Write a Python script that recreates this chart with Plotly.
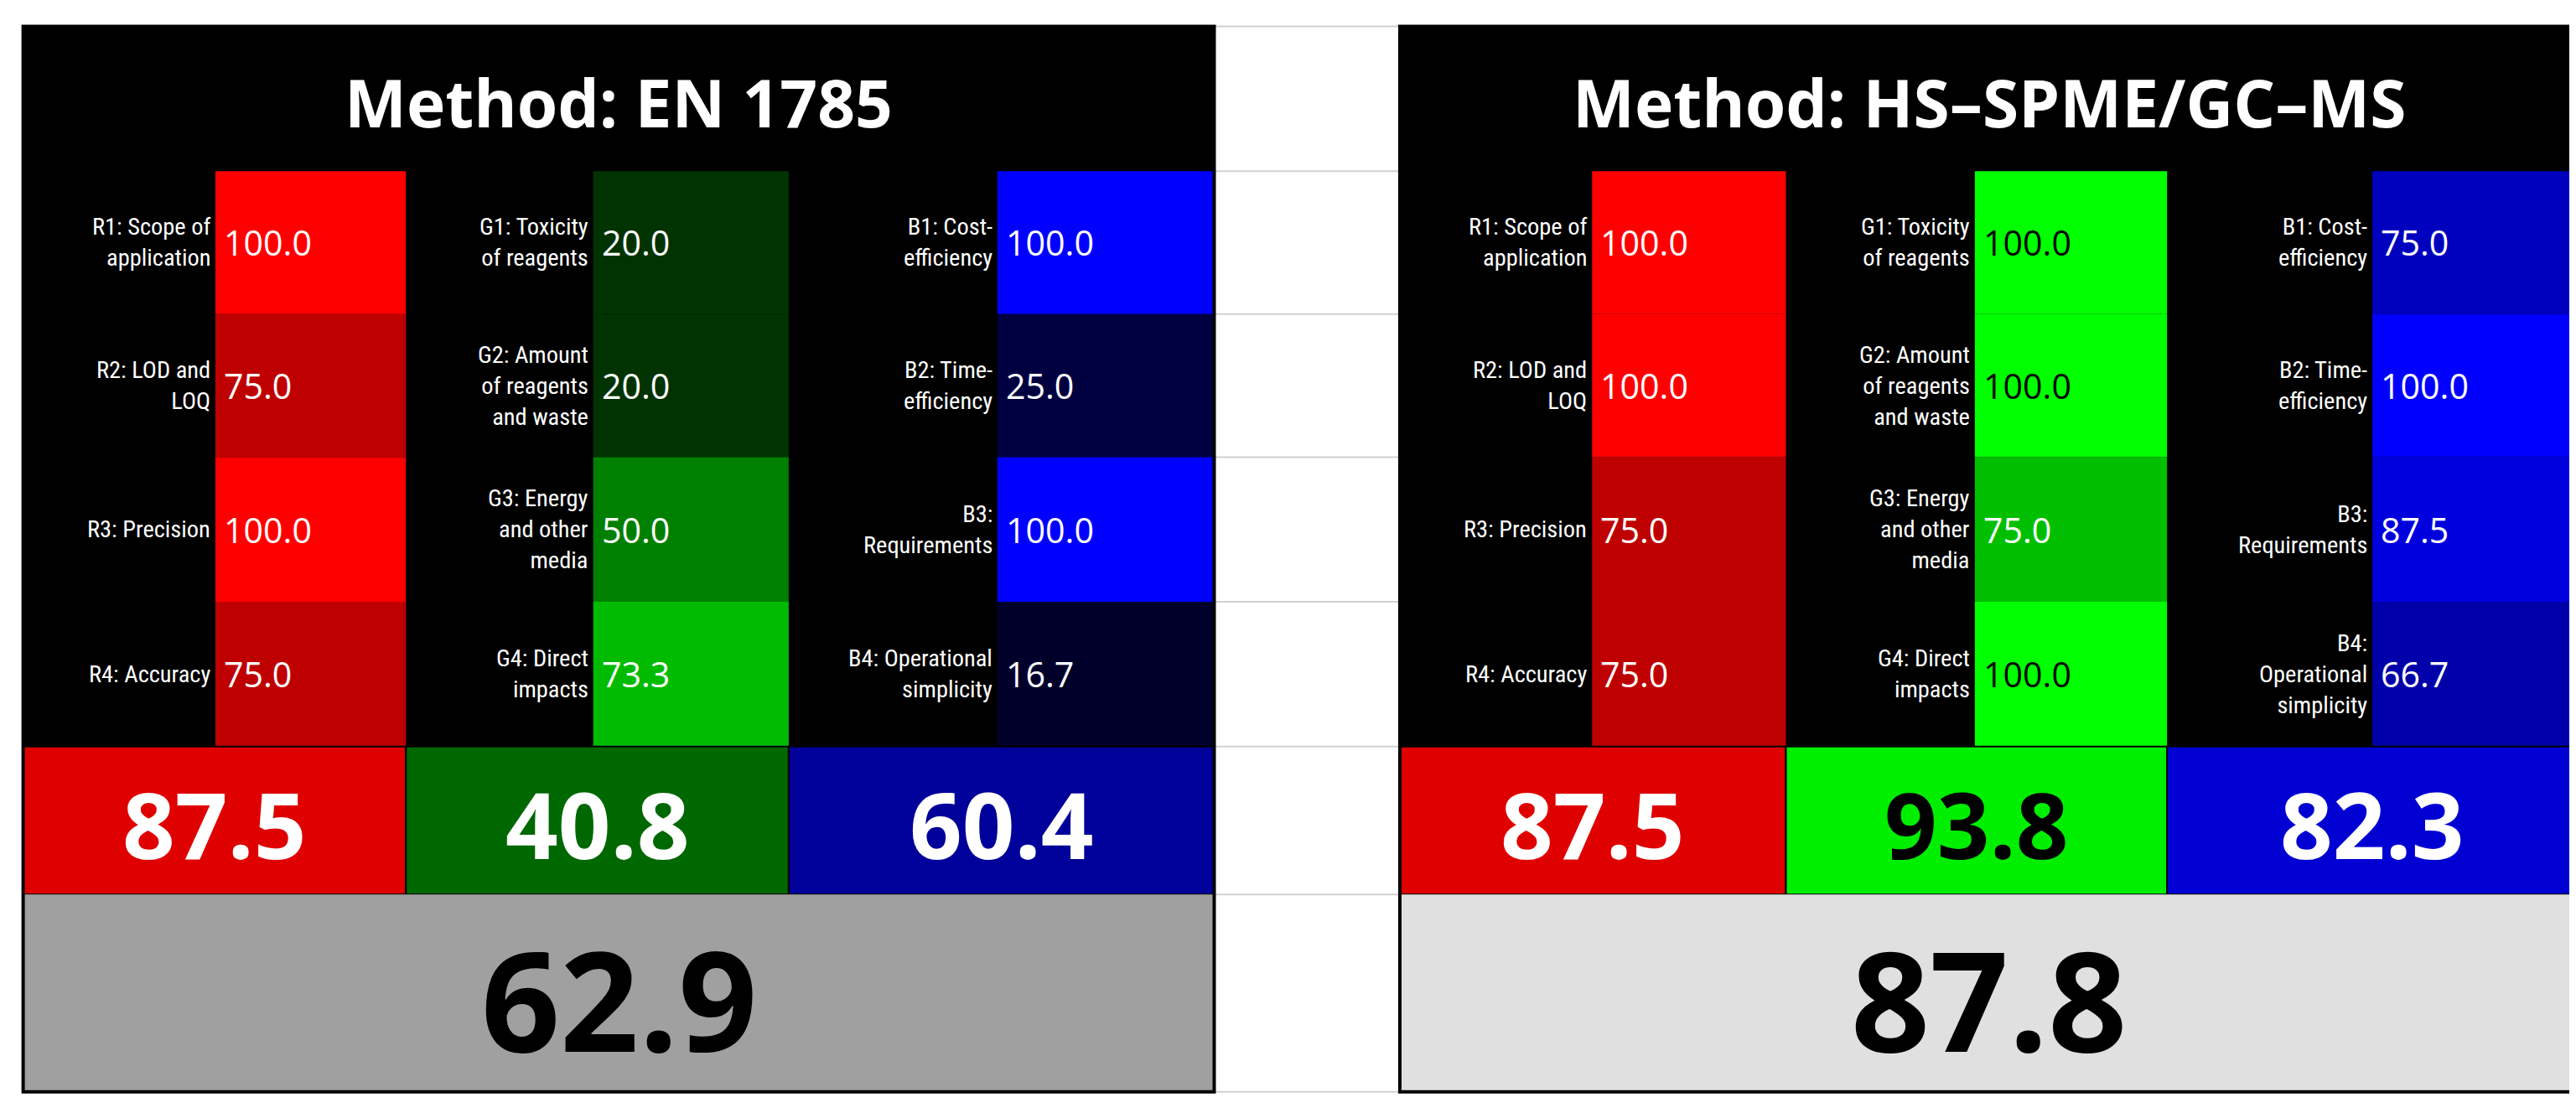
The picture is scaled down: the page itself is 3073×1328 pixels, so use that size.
import plotly.graph_objects as go

methods = ["Method: EN 1785", "Method: HS\u2013SPME/GC\u2013MS"]
red_labels = [["R1: Scope of<br>application", "R2: LOD and<br>LOQ", "R3: Precision", "R4: Accuracy"],
              ["R1: Scope of<br>application", "R2: LOD and<br>LOQ", "R3: Precision", "R4: Accuracy"]]
green_labels = [["G1: Toxicity<br>of reagents", "G2: Amount<br>of reagents<br>and waste", "G3: Energy<br>and other<br>media", "G4: Direct<br>impacts"],
                ["G1: Toxicity<br>of reagents", "G2: Amount<br>of reagents<br>and waste", "G3: Energy<br>and other<br>media", "G4: Direct<br>impacts"]]
blue_labels = [["B1: Cost-<br>efficiency", "B2: Time-<br>efficiency", "B3:<br>Requirements", "B4: Operational<br>simplicity"],
               ["B1: Cost-<br>efficiency", "B2: Time-<br>efficiency", "B3:<br>Requirements", "B4:<br>Operational<br>simplicity"]]
red_values = [[100.0, 75.0, 100.0, 75.0], [100.0, 100.0, 75.0, 75.0]]
green_values = [[20.0, 20.0, 50.0, 73.3], [100.0, 100.0, 75.0, 100.0]]
blue_values = [[100.0, 25.0, 100.0, 16.7], [75.0, 100.0, 87.5, 66.7]]
red_scores = [87.5, 87.5]
green_scores = [40.8, 93.8]
blue_scores = [60.4, 82.3]
whiteness = [62.9, 87.8]

S = 3073 / 1568
FONT = "Open Sans"
panels = [dict(x0=10, cols=[10, 127, 243, 357, 476, 603, 735]),
          dict(x0=848, cols=[848, 965, 1083, 1198, 1315, 1440, 1565])]
rows = [100, 187, 274, 362, 450]
Y_TOP, Y_SUM, Y_FIN, Y_END = 12, 450, 540, 660

shapes, ann = [], []

def rect(x0, x1, y0, y1, color, lw=0, lc="black"):
    shapes.append(dict(type="rect", x0=x0, x1=x1, y0=y0, y1=y1, fillcolor=color,
                       line=dict(width=lw, color=lc), layer="below"))

def txt(x, y, t, size, color="white", xa="center", bold=False, family=FONT):
    if bold:
        t = "<b>" + t + "</b>"
    ann.append(dict(x=x, y=y, text=t, showarrow=False, xanchor=xa, yanchor="middle",
                    font=dict(family=family, size=size * S, color=color),
                    align="right" if xa == "right" else "center"))

def chan(v):
    return int(round(v / 100 * 255))

for y in [Y_TOP] + rows + [Y_FIN, Y_END]:
    shapes.append(dict(type="line", x0=735, x1=848, y0=y, y1=y, line=dict(color="#D0D0D0", width=2)))

for p, panel in enumerate(panels):
    c = panel["cols"]
    rect(c[0], c[6], Y_TOP, Y_SUM, "black")
    txt((c[0] + c[6]) / 2, (Y_TOP + rows[0]) / 2 + 2, methods[p], 40, bold=True)
    groups = [(red_labels[p], red_values[p], lambda v: f"rgb({chan(v)},0,0)"),
              (green_labels[p], green_values[p], lambda v: f"rgb(0,{chan(v)},0)"),
              (blue_labels[p], blue_values[p], lambda v: f"rgb(0,0,{chan(v)})")]
    for g, (labs, vals, colf) in enumerate(groups):
        lx0, lx1, vx1 = c[2 * g], c[2 * g + 1], c[2 * g + 2]
        for i in range(4):
            y0, y1 = rows[i], rows[i + 1]
            rect(lx1, vx1, y0, y1, colf(vals[i]))
            tc = "black" if (g == 1 and vals[i] >= 90) else "white"
            txt(lx1 - 2, (y0 + y1) / 2, labs[i], 14.5, xa="right", family="Liberation Sans Narrow, Roboto Condensed, Open Sans")
            txt(lx1 + 4, (y0 + y1) / 2, f"{vals[i]:.1f}", 21, color=tc, xa="left")
    sums = [(red_scores[p], lambda v: f"rgb({chan(v)},0,0)"),
            (green_scores[p], lambda v: f"rgb(0,{chan(v)},0)"),
            (blue_scores[p], lambda v: f"rgb(0,0,{chan(v)})")]
    for g, (v, colf) in enumerate(sums):
        x0, x1 = c[2 * g], c[2 * g + 2]
        rect(x0, x1, Y_SUM, Y_FIN, colf(v), lw=2)
        tc = "black" if (g == 1 and v >= 90) else "white"
        txt((x0 + x1) / 2, (Y_SUM + Y_FIN) / 2 + 2, f"{v:.1f}", 56, color=tc, bold=True)
    gv = chan(whiteness[p])
    rect(c[0], c[6], Y_FIN, Y_END, f"rgb({gv},{gv},{gv})")
    txt((c[0] + c[6]) / 2, (Y_FIN + Y_END) / 2 + 3, f"{whiteness[p]:.1f}", 84, color="black", bold=True)
    shapes.append(dict(type="rect", x0=c[0], x1=c[6], y0=Y_TOP, y1=Y_END,
                       line=dict(color="black", width=4), fillcolor="rgba(0,0,0,0)"))

fig = go.Figure()
fig.update_layout(width=3073, height=1328, margin=dict(l=0, r=0, t=0, b=0),
                  paper_bgcolor="white", plot_bgcolor="white",
                  xaxis=dict(range=[0, 1568], visible=False, fixedrange=True),
                  yaxis=dict(range=[677, 0], visible=False, fixedrange=True),
                  shapes=shapes, annotations=ann, showlegend=False)
fig.write_html("out.html")
